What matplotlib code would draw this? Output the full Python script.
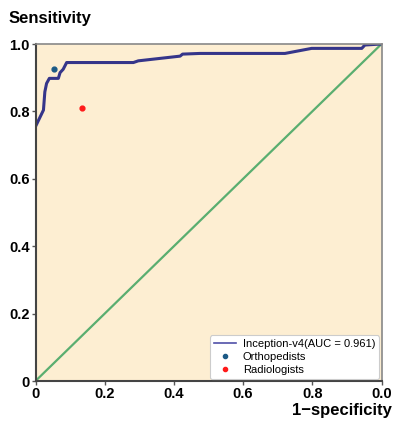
import numpy as np
import matplotlib.pyplot as plt
from matplotlib.lines import Line2D

# ROC curve points
fpr = [0.0, 0.023, 0.027, 0.032, 0.040, 0.066, 0.071, 0.080, 0.090, 0.283, 0.297,
       0.418, 0.425, 0.475, 0.721, 0.798, 0.943, 0.952, 1.0]
tpr = [0.755, 0.804, 0.858, 0.883, 0.898, 0.898, 0.915, 0.925, 0.945, 0.945, 0.950,
       0.964, 0.970, 0.972, 0.972, 0.987, 0.987, 0.997, 1.0]
ortho = (0.053, 0.925)
radio = (0.133, 0.811)
xticks = [0, 0.2, 0.4, 0.6, 0.8, 1.0]
xlabels = ["0", "0.2", "0.4", "0.6", "0.8", "0.0"]
yticks = [0, 0.2, 0.4, 0.6, 0.8, 1.0]
ylabels = ["0", "0.2", "0.4", "0.6", "0.8", "1.0"]
names = ["Inception-v4(AUC = 0.961)", "Orthopedists", "Radiologists"]

plt.rcParams['font.family'] = ['Liberation Sans', 'DejaVu Sans']

fig = plt.figure(figsize=(3.93, 4.23), dpi=100)
ax = fig.add_axes([35.5/393, 1-381/423, 346/393, 337/423])
ax.set_facecolor("#fdeed2")

ax.plot([0, 1], [0, 1], color="#5aae70", lw=1.6)
ax.plot(fpr, tpr, color="#35358a", lw=2.2)
ax.scatter([ortho[0]], [ortho[1]], s=12, color="#1c5a86", zorder=3)
ax.scatter([radio[0]], [radio[1]], s=12, color="#ff1a1a", zorder=3)

ax.set_xlim(0, 1)
ax.set_ylim(0, 1)
ax.set_xticks(xticks)
ax.set_xticklabels(xlabels, fontsize=10.5, fontweight="bold")
ax.set_yticks(yticks)
ax.set_yticklabels(ylabels, fontsize=10.5, fontweight="bold")
ax.tick_params(length=3, width=1, color="#555555", pad=1)
for s in ["left", "bottom"]:
    ax.spines[s].set_color("#444444")
    ax.spines[s].set_linewidth(1.5)
for s in ["top", "right"]:
    ax.spines[s].set_color("#888888")
    ax.spines[s].set_linewidth(1.2)

fig.text(9/393, 1-19/423, "Sensitivity", fontsize=12, fontweight="bold", va="center")
fig.text(392/393, 1-410/423, "1\u2212specificity", fontsize=12, fontweight="bold",
         va="center", ha="right")

handles = [Line2D([], [], color="#5050a8", lw=1.2),
           Line2D([], [], marker="o", ls="", ms=3, color="#1c5a86"),
           Line2D([], [], marker="o", ls="", ms=3, color="#ff1a1a")]
leg = ax.legend(handles, names, loc="lower right", fontsize=8, frameon=True,
                fancybox=True, handlelength=2.0, handletextpad=0.6,
                borderpad=0.35, labelspacing=0.25, borderaxespad=0.2)
leg.get_frame().set_edgecolor("#cccccc")
leg.get_frame().set_linewidth(0.8)
leg.get_frame().set_alpha(1)

fig.savefig("out.png", dpi=100)
